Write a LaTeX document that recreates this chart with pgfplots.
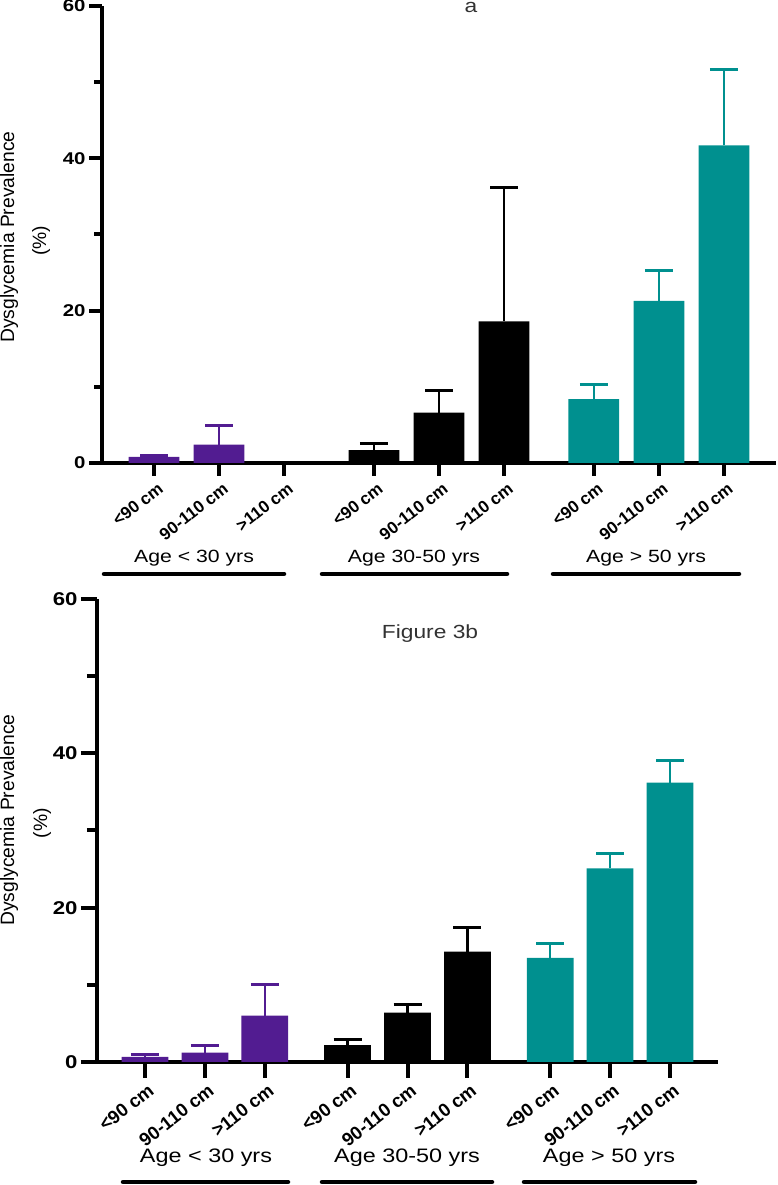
\documentclass[border=0pt]{standalone}
\usepackage{fontspec}
\setmainfont{Liberation Sans}
\newfontfamily\sfst{Liberation Sans}[FakeStretch=1.2]
\usepackage{pgfplots}
\usepackage{pgfplotstable}
\pgfplotsset{compat=1.18}
\definecolor{cpurple}{RGB}{82,28,145}
\definecolor{cteal}{RGB}{0,144,143}
\definecolor{ctitle}{RGB}{50,50,50}

% top panel (a)
\pgfplotstableread{
x y e
0 0.8 0.2
1 2.4 2.5
}\topP
\pgfplotstableread{
x y e
3.38 1.7 0.8
4.38 6.6 2.9
5.38 18.6 17.6
}\topB
\pgfplotstableread{
x y e
6.76 8.4 1.9
7.76 21.3 4.0
8.76 41.7 9.9
}\topT
% bottom panel (b)
\pgfplotstableread{
x y e
0 0.65 0.35
1 1.2 1.0
2 6.0 4.0
}\botP
\pgfplotstableread{
x y e
3.38 2.2 0.7
4.38 6.4 1.1
5.38 14.3 3.1
}\botB
\pgfplotstableread{
x y e
6.76 13.5 1.8
7.76 25.1 1.9
8.76 36.2 2.9
}\botT

\pgfplotsset{
  panel/.style={
    scale only axis,
    xmin=-0.8, xmax=9.56, ymin=0, ymax=60,
    axis x line*=bottom, axis y line*=left,
    axis line style={line width=4.5pt, -},
    ytick={0,20,40,60}, minor ytick={10,30,50},
    xtick={0,1,2,3.38,4.38,5.38,6.76,7.76,8.76},
    xticklabels={<90 cm,90-110 cm,>110 cm,<90 cm,90-110 cm,>110 cm,<90 cm,90-110 cm,>110 cm},
    tick align=outside,
    tick style={line width=4pt, black},
    /pgf/number format/assume math mode=true,
    clip=false,
  },
  barp/.style={ybar, bar width=0.78, bar shift=0pt, draw=none, fill=#1,
    error bars/.cd, y dir=plus, y explicit,
    error bar style={line width=2.5pt, color=#1},
    error mark options={rotate=90, line width=3pt, mark size=14pt, color=#1}},
}

\begin{document}
\begin{tikzpicture}
\path[use as bounding box] (0pt,0pt) rectangle (777pt,1185pt);

% ---------- top panel ----------
\begin{axis}[panel, at={(102pt,722pt)}, anchor=south west, width=674pt, height=457pt,
  major tick length=13pt, minor tick length=8pt,
  yticklabel style={font=\sfst\bfseries\fontsize{17}{17}\selectfont},
  xticklabel style={font=\bfseries\fontsize{17}{17}\selectfont, rotate=38, anchor=north east, inner sep=1pt, yshift=-5pt}]
\addplot[barp=cpurple] table[x=x, y=y, y error=e] {\topP};
\addplot[barp=black] table[x=x, y=y, y error=e] {\topB};
\addplot[barp=cteal] table[x=x, y=y, y error=e] {\topT};
\end{axis}

% ---------- bottom panel ----------
\begin{axis}[panel, at={(97pt,123pt)}, anchor=south west, width=621pt, height=463pt,
  major tick length=16pt, minor tick length=10pt,
  yticklabel style={font=\sfst\bfseries\fontsize{18.5}{18.5}\selectfont},
  xticklabel style={font=\bfseries\fontsize{18.5}{18.5}\selectfont, rotate=38, anchor=north east, inner sep=1pt, yshift=-4pt}]
\addplot[barp=cpurple] table[x=x, y=y, y error=e] {\botP};
\addplot[barp=black] table[x=x, y=y, y error=e] {\botB};
\addplot[barp=cteal] table[x=x, y=y, y error=e] {\botT};
\end{axis}

% titles
\node[anchor=base, font=\sfst\fontsize{19}{19}\selectfont, text=ctitle] at (471pt,1172pt) {a};
\node[anchor=base, font=\sfst\fontsize{19}{19}\selectfont, text=ctitle] at (430pt,546pt) {Figure 3b};

% y labels
\node[rotate=90, anchor=north, inner sep=0pt, font=\fontsize{19.3}{20}\selectfont] at (0pt,948pt) {Dysglycemia Prevalence};
\node[rotate=90, anchor=north, inner sep=0pt, font=\fontsize{19.3}{20}\selectfont] at (32pt,944pt) {(\%)};
\node[rotate=90, anchor=north, inner sep=0pt, font=\fontsize{19.3}{20}\selectfont] at (0pt,365pt) {Dysglycemia Prevalence};
\node[rotate=90, anchor=north, inner sep=0pt, font=\fontsize{19.3}{20}\selectfont] at (33pt,362pt) {(\%)};

% group labels top
\begin{scope}[font=\sfst\fontsize{17.7}{18}\selectfont]
\node[anchor=base] at (194pt,622pt) {Age < 30 yrs};
\node[anchor=base] at (414pt,622pt) {Age 30-50 yrs};
\node[anchor=base] at (646pt,622pt) {Age > 50 yrs};
\end{scope}
\draw[line width=4.5pt, line cap=round] (104pt,611pt) -- (284pt,611pt);
\draw[line width=4.5pt, line cap=round] (322pt,611pt) -- (507pt,611pt);
\draw[line width=4.5pt, line cap=round] (553pt,611pt) -- (739pt,611pt);

% group labels bottom
\begin{scope}[font=\sfst\fontsize{19.5}{20}\selectfont]
\node[anchor=base] at (206pt,23pt) {Age < 30 yrs};
\node[anchor=base] at (407pt,23pt) {Age 30-50 yrs};
\node[anchor=base] at (609pt,23pt) {Age > 50 yrs};
\end{scope}
\draw[line width=4.5pt, line cap=round] (123pt,3pt) -- (288pt,3pt);
\draw[line width=4.5pt, line cap=round] (322pt,3pt) -- (492pt,3pt);
\draw[line width=4.5pt, line cap=round] (524pt,3pt) -- (695pt,3pt);
\end{tikzpicture}
\end{document}
